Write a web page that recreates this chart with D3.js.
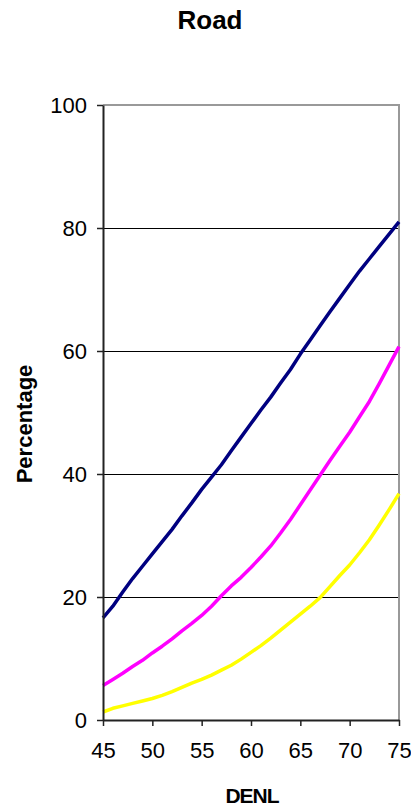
<!DOCTYPE html>
<html>
<head>
<meta charset="utf-8">
<script src="https://cdn.jsdelivr.net/npm/d3@7"></script>
<style>
  body { margin: 0; background: #fff; }
  svg text { font-family: "Liberation Sans", Arial, sans-serif; fill: #000; }
</style>
</head>
<body>
<script>
const width = 411;
const height = 807;

// DENL values, 1 dB steps
const denl = d3.range(45, 76);
const navy = [16.6, 18.5, 20.8, 23, 25, 27, 29, 31, 33.2, 35.3, 37.5, 39.5, 41.5, 43.8, 46, 48.2,
  50.4, 52.5, 54.8, 57, 59.5, 61.8, 64.1, 66.4, 68.6, 70.8, 73, 75, 77, 79, 81];
const magenta = [5.6, 6.6, 7.6, 8.7, 9.7, 10.9, 12, 13.2, 14.5, 15.7, 17, 18.5, 20.2, 21.8, 23.2, 24.8,
  26.5, 28.3, 30.4, 32.6, 35, 37.4, 39.8, 42.2, 44.5, 46.8, 49.3, 51.8, 54.7, 57.7, 60.7];
const yellow = [1.3, 1.9, 2.3, 2.7, 3.1, 3.5, 4, 4.6, 5.3, 6, 6.6, 7.3, 8.1, 8.9, 9.9, 11,
  12.1, 13.3, 14.6, 15.9, 17.2, 18.5, 19.9, 21.7, 23.5, 25.2, 27.2, 29.3, 31.7, 34.2, 36.8];
const xTicks = [45, 50, 55, 60, 65, 70, 75];
const yTicks = [0, 20, 40, 60, 80, 100];

const series = [
  { values: navy, color: "#000080" },
  { values: magenta, color: "#ff00ff" },
  { values: yellow, color: "#ffff00" }
];

const svg = d3.select("body").append("svg")
    .attr("width", width)
    .attr("height", height);

const x = d3.scaleLinear().domain([45, 75]).range([103, 399]);
const y = d3.scaleLinear().domain([0, 100]).range([720, 105]);

// gridlines (half-pixel offset keeps them crisp)
svg.append("g")
    .selectAll("line")
    .data(yTicks.filter(d => d > 0 && d < 100))
    .enter().append("line")
    .attr("x1", x(45)).attr("x2", x(75))
    .attr("y1", d => Math.round(y(d)) + 0.5).attr("y2", d => Math.round(y(d)) + 0.5)
    .attr("stroke", "#000").attr("stroke-width", 1);

// top and right frame
svg.append("path")
    .attr("d", `M${x(45)},${y(100)}H${x(75)}V${y(0)}`)
    .attr("fill", "none")
    .attr("stroke", "#999")
    .attr("stroke-width", 2);

// lines
const line = d3.line()
    .x((d, i) => x(denl[i]))
    .y(d => y(d));

svg.append("g")
    .selectAll("path")
    .data(series)
    .enter().append("path")
    .attr("d", d => line(d.values))
    .attr("fill", "none")
    .attr("stroke", d => d.color)
    .attr("stroke-width", 3.5)
    .attr("stroke-linejoin", "round");

// axes
const xAxis = svg.append("g")
    .attr("transform", `translate(0,${y(0)})`)
    .call(d3.axisBottom(x).tickValues(xTicks).tickSize(6).tickSizeOuter(0).tickPadding(16));
const yAxis = svg.append("g")
    .attr("transform", `translate(${x(45)},0)`)
    .call(d3.axisLeft(y).tickValues(yTicks).tickSize(6).tickSizeOuter(0).tickPadding(10));

[xAxis, yAxis].forEach(a => {
  a.select(".domain").attr("stroke", "#222").attr("stroke-width", 2);
  a.selectAll(".tick line").attr("stroke", "#222").attr("stroke-width", 1.5);
  a.selectAll("text")
    .style("font-family", "'Liberation Sans', Arial, sans-serif")
    .style("font-size", "22px")
    .attr("fill", "#000");
});

// titles
svg.append("text")
    .attr("x", 210).attr("y", 29)
    .attr("text-anchor", "middle")
    .style("font-size", "26px").style("font-weight", "bold")
    .text("Road");

svg.append("text")
    .attr("x", 252).attr("y", 803)
    .attr("text-anchor", "middle")
    .style("font-size", "21px").style("font-weight", "bold")
    .style("letter-spacing", "-1px")
    .text("DENL");

svg.append("text")
    .attr("transform", "translate(32,424) rotate(-90)")
    .attr("text-anchor", "middle")
    .style("font-size", "22px").style("font-weight", "bold")
    .text("Percentage");
</script>
</body>
</html>
